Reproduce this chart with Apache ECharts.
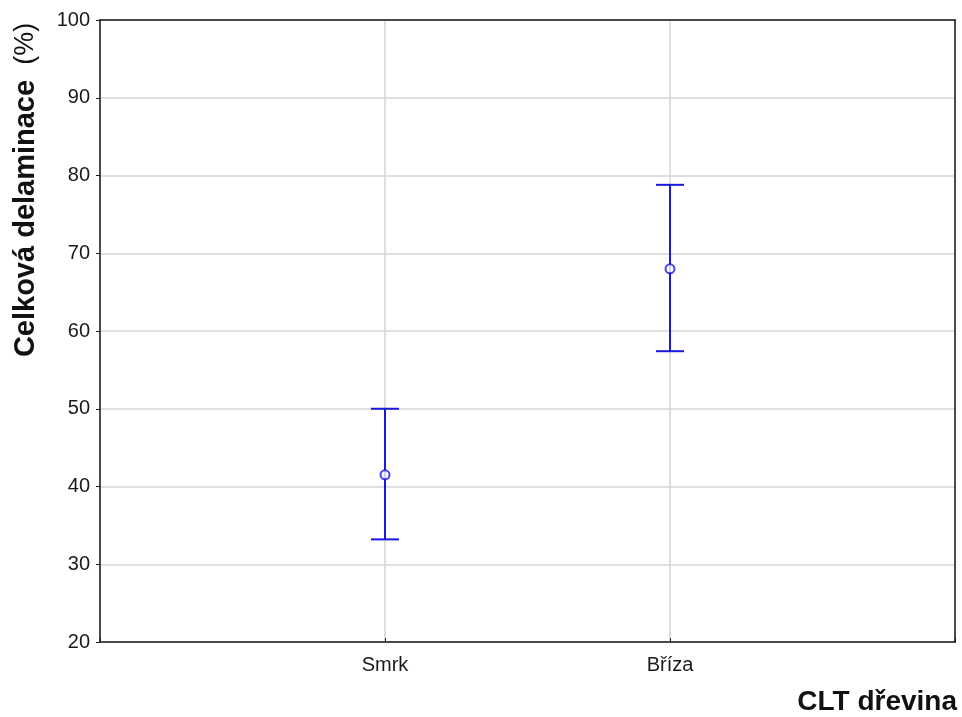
<!DOCTYPE html>
<html>
<head>
<meta charset="utf-8">
<script src="https://cdn.jsdelivr.net/npm/echarts@6/dist/echarts.min.js"></script>
<style>
html,body{margin:0;padding:0;background:#fff;}
#chart{width:962px;height:717px;}
</style>
</head>
<body>
<div id="chart"></div>
<script>
const categories = ['Smrk', 'Bříza'];
const means = [41.5, 68.0];
const lowerBounds = [33.2, 57.4];
const upperBounds = [50.0, 78.8];
const yTicks = { min: 20, max: 100, interval: 10 };
const xTitle = 'CLT dřevina';
const yTitleBold = 'Celková delaminace';
const yTitleUnit = '(%)';

const blue = '#1818e0';
const font = 'Liberation Sans, Arial, sans-serif';
const axisCol = '#1a1a1a';

const chart = echarts.init(document.getElementById('chart'), null, {renderer: 'canvas'});

const errData = categories.map((c, i) => [i + 1, lowerBounds[i], upperBounds[i]]);
const meanData = categories.map((c, i) => [i + 1, means[i]]);
const xMax = categories.length + 1;

chart.setOption({
  animation: false,
  backgroundColor: '#fff',
  grid: { left: 100, right: 7, top: 20, bottom: 75 },
  xAxis: [{
    type: 'value', min: 0, max: xMax, interval: 1,
    axisLine: { show: true, lineStyle: { color: axisCol, width: 1.5 } },
    axisTick: { show: true, inside: true, length: 4, lineStyle: { color: axisCol, width: 1 } },
    axisLabel: {
      show: true, margin: 13, fontSize: 20, color: '#1a1a1a', fontFamily: font,
      formatter: v => (v >= 1 && v <= categories.length) ? categories[v - 1] : ''
    },
    splitLine: { show: true, lineStyle: { color: '#d4d4d4', width: 1.5 } }
  }, {
    type: 'value', min: 0, max: xMax, position: 'top',
    axisLine: { show: true, onZero: false, lineStyle: { color: axisCol, width: 1.5 } },
    axisTick: { show: false }, axisLabel: { show: false }, splitLine: { show: false }
  }],
  yAxis: [{
    type: 'value', min: yTicks.min, max: yTicks.max, interval: yTicks.interval,
    axisLine: { show: true, lineStyle: { color: axisCol, width: 1.5 } },
    axisTick: { show: true, inside: false, length: 4, lineStyle: { color: axisCol, width: 1 } },
    axisLabel: { margin: 10, fontSize: 20, color: '#1a1a1a', fontFamily: font },
    splitLine: { show: true, lineStyle: { color: '#d4d4d4', width: 1.5 } }
  }, {
    type: 'value', min: yTicks.min, max: yTicks.max, position: 'right',
    axisLine: { show: true, onZero: false, lineStyle: { color: axisCol, width: 1.5 } },
    axisTick: { show: false }, axisLabel: { show: false }, splitLine: { show: false }
  }],
  graphic: [
    {
      type: 'text', right: 5, top: 688,
      style: { text: xTitle, font: 'bold 28px ' + font, fill: '#111' }
    },
    {
      type: 'text', x: 40, y: 190, rotation: Math.PI / 2,
      style: {
        text: '{b|' + yTitleBold + '}{n|  ' + yTitleUnit + '}',
        align: 'center', verticalAlign: 'bottom',
        rich: {
          b: { font: 'bold 29px ' + font, fill: '#111' },
          n: { font: '27px ' + font, fill: '#111' }
        }
      }
    }
  ],
  series: [
    {
      type: 'custom',
      data: errData,
      renderItem: function (params, api) {
        const x = api.value(0);
        const lo = api.coord([x, api.value(1)]);
        const hi = api.coord([x, api.value(2)]);
        const hw = 14;
        const st = { stroke: blue, lineWidth: 2 };
        return {
          type: 'group',
          children: [
            { type: 'line', shape: { x1: lo[0], y1: lo[1], x2: hi[0], y2: hi[1] }, style: st },
            { type: 'line', shape: { x1: lo[0] - hw, y1: lo[1], x2: lo[0] + hw, y2: lo[1] }, style: st },
            { type: 'line', shape: { x1: hi[0] - hw, y1: hi[1], x2: hi[0] + hw, y2: hi[1] }, style: st }
          ]
        };
      },
      z: 3
    },
    {
      type: 'scatter',
      data: meanData,
      symbol: 'circle',
      symbolSize: 9,
      itemStyle: { color: '#fff', borderColor: blue, borderWidth: 2 },
      z: 4
    }
  ]
});
</script>
</body>
</html>
